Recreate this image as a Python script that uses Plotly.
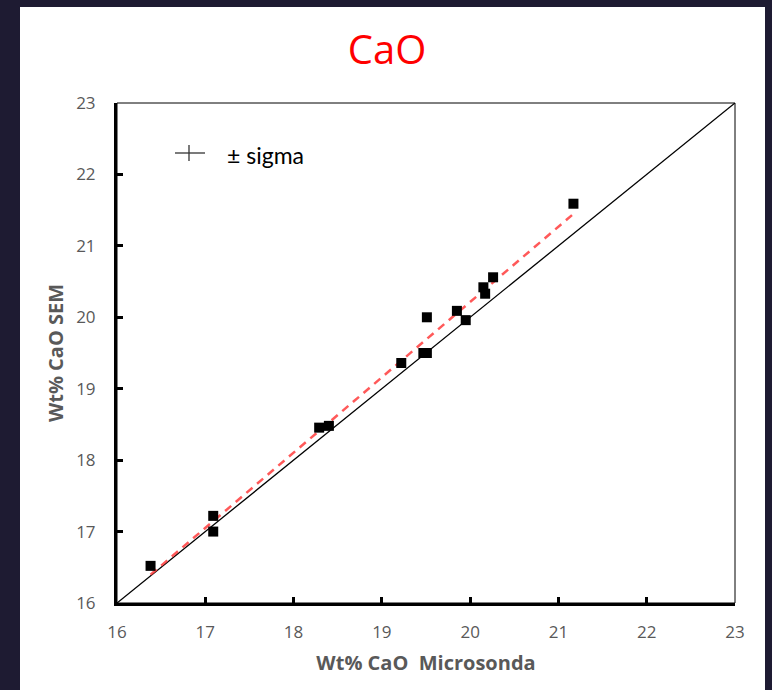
import numpy as np
import plotly.graph_objects as go

# CaO wt% measured by microprobe (x) vs SEM (y)
microsonda = [16.38, 17.09, 17.09, 18.29, 18.40, 19.22, 19.47, 19.51, 19.51,
              19.85, 19.95, 20.15, 20.17, 20.26, 21.17]
sem = [16.52, 17.22, 17.00, 18.455, 18.48, 19.36, 19.50, 19.50, 20.00,
       20.09, 19.96, 20.42, 20.33, 20.56, 21.59]
axis_range = [16, 23]
tick_vals = [16, 17, 18, 19, 20, 21, 22, 23]

W, H = 772, 690
ML, MR, MT, MB = 117, 37, 103, 87

# least-squares trend line over the measured span
slope, intercept = np.polyfit(microsonda, sem, 1)
fit_x = np.array([min(microsonda), max(microsonda)])
fit_y = slope * fit_x + intercept

fig = go.Figure()

# 1:1 reference line
fig.add_trace(go.Scatter(x=axis_range, y=axis_range, mode="lines",
                         line=dict(color="black", width=1.3),
                         showlegend=False, hoverinfo="skip"))
# trend line
fig.add_trace(go.Scatter(x=fit_x, y=fit_y, mode="lines",
                         line=dict(color="rgba(255,60,60,0.85)", width=2.5,
                                   dash="8px,6px"),
                         showlegend=False, hoverinfo="skip"))
# samples
fig.add_trace(go.Scatter(x=microsonda, y=sem, mode="markers",
                         marker=dict(symbol="square", size=10, color="black",
                                     line=dict(width=0)),
                         showlegend=False))

tick_font = dict(family="Open Sans, Lato, sans-serif", size=17, color="#595959")
title_font = dict(family="Open Sans, Lato, sans-serif", size=20, color="#595959")

axis_common = dict(range=axis_range, tickvals=tick_vals, ticks="inside",
                   ticklen=6, tickwidth=2.5, tickcolor="black",
                   showline=True, linewidth=3, linecolor="black",
                   showgrid=False, zeroline=False, tickfont=tick_font)

fig.update_layout(
    width=W, height=H,
    margin=dict(l=ML, r=MR, t=MT, b=MB),
    paper_bgcolor="#1e1b32",
    plot_bgcolor="white",
    xaxis=dict(**axis_common, ticklabelstandoff=12,
               title=dict(text="<b>Wt% CaO  Microsonda</b>", font=title_font,
                          standoff=14)),
    yaxis=dict(**axis_common, ticklabelstandoff=15,
               title=dict(text="<b>Wt% CaO SEM</b>", font=title_font,
                          standoff=8)),
    title=dict(text="CaO", x=(387) / W, xanchor="center", y=1 - 50 / H,
               yanchor="middle",
               font=dict(family="Open Sans, Lato, sans-serif", size=40,
                         color="#ff0000")),
    showlegend=False,
)

def px_x(p):
    return (p - ML) / (W - ML - MR)

def px_y(p):
    return (H - MB - p) / (H - MT - MB)

shapes = [
    # white card behind the chart
    dict(type="rect", xref="paper", yref="paper", layer="below",
         x0=px_x(20), x1=px_x(765), y0=px_y(7), y1=px_y(H + 5),
         fillcolor="white", line=dict(width=0)),
    # thin frame on the top and right edges
    dict(type="rect", xref="x domain", yref="y domain",
         x0=0, x1=1, y0=0, y1=1, line=dict(color="black", width=1)),
    # legend glyph for the error cross
    dict(type="line", xref="x domain", yref="y domain",
         x0=px_x(175), x1=px_x(205), y0=px_y(153), y1=px_y(153),
         line=dict(color="#333333", width=1.3)),
    dict(type="line", xref="x domain", yref="y domain",
         x0=px_x(189), x1=px_x(189), y0=px_y(145), y1=px_y(161),
         line=dict(color="#333333", width=1.3)),
]
fig.update_layout(shapes=shapes)

fig.add_annotation(xref="x domain", yref="y domain", x=px_x(225), y=px_y(155),
                   xanchor="left", yanchor="middle", showarrow=False,
                   text="± sigma",
                   font=dict(family="Lato, Open Sans, sans-serif", size=23,
                             color="black"))

fig.write_html("out.html")
